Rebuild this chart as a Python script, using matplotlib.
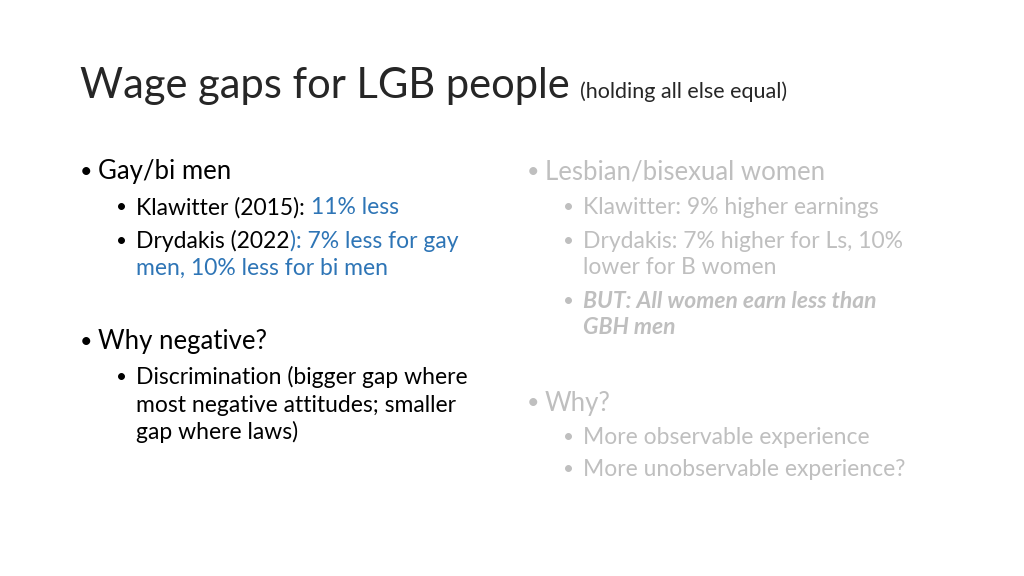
import matplotlib
matplotlib.use("Agg")
import matplotlib.pyplot as plt

FONT = "Lato"
BLACK = "#000000"
BLUE = "#2E75B6"
GRAY = "#BFBFBF"

title = "Wage gaps for LGB people"
subtitle = "(holding all else equal)"

# each line: (level, y_pixel, bullet?, [(text, colour, style)])
left_lines = [
    (0, 172, True, [("Gay/bi men", BLACK, "n")]),
    (1, 208, True, [("Klawitter (2015): ", BLACK, "n"), ("11% less", BLUE, "n")]),
    (1, 241, True, [("Drydakis (2022", BLACK, "n"), ("): 7% less for gay", BLUE, "n")]),
    (1, 268, False, [("men, 10% less for bi men", BLUE, "n")]),
    (0, 342, True, [("Why negative?", BLACK, "n")]),
    (1, 377, True, [("Discrimination (bigger gap where", BLACK, "n")]),
    (1, 405, False, [("most negative attitudes; smaller", BLACK, "n")]),
    (1, 432, False, [("gap where laws)", BLACK, "n")]),
]
right_lines = [
    (0, 172, True, [("Lesbian/bisexual women", GRAY, "n")]),
    (1, 208, True, [("Klawitter: 9% higher earnings", GRAY, "n")]),
    (1, 241, True, [("Drydakis: 7% higher for Ls, 10%", GRAY, "n")]),
    (1, 268, False, [("lower for B women", GRAY, "n")]),
    (1, 301, True, [("BUT: All women earn less than", GRAY, "bi")]),
    (1, 328, False, [("GBH men", GRAY, "bi")]),
    (0, 403, True, [("Why?", GRAY, "n")]),
    (1, 438, True, [("More observable experience", GRAY, "n")]),
    (1, 470, True, [("More unobservable experience?", GRAY, "n")]),
]

W, H = 1024, 576
fig = plt.figure(figsize=(W / 100, H / 100), dpi=100)
fig.patch.set_facecolor("white")
renderer = fig.canvas.get_renderer()


def put(x, y, s, color, size, style="n"):
    t = fig.text(x / W, 1 - y / H, s, color=color, fontsize=size, family=FONT,
                 va="center", ha="left",
                 fontweight="bold" if "b" in style else "normal",
                 fontstyle="italic" if "i" in style else "normal")
    return t.get_window_extent(renderer).x1


x = put(80, 86, title, "#262626", 30)
put(x + 10, 92, subtitle, "#262626", 15.5)


def draw_column(lines, x0, bullet_color):
    for level, y, bullet, segs in lines:
        size = 18.5 if level == 0 else 16.5
        bx = x0 if level == 0 else x0 + 36
        tx = x0 + 18 if level == 0 else x0 + 56
        if bullet:
            put(bx, y, "\u2022", segs[0][1] if bullet_color is None else bullet_color, size - 3)
        cx = tx
        for s, c, st in segs:
            cx = put(cx, y, s, c, size, st)


draw_column(left_lines, 80, None)
draw_column(right_lines, 527, GRAY)

fig.savefig("out.png", dpi=100)
